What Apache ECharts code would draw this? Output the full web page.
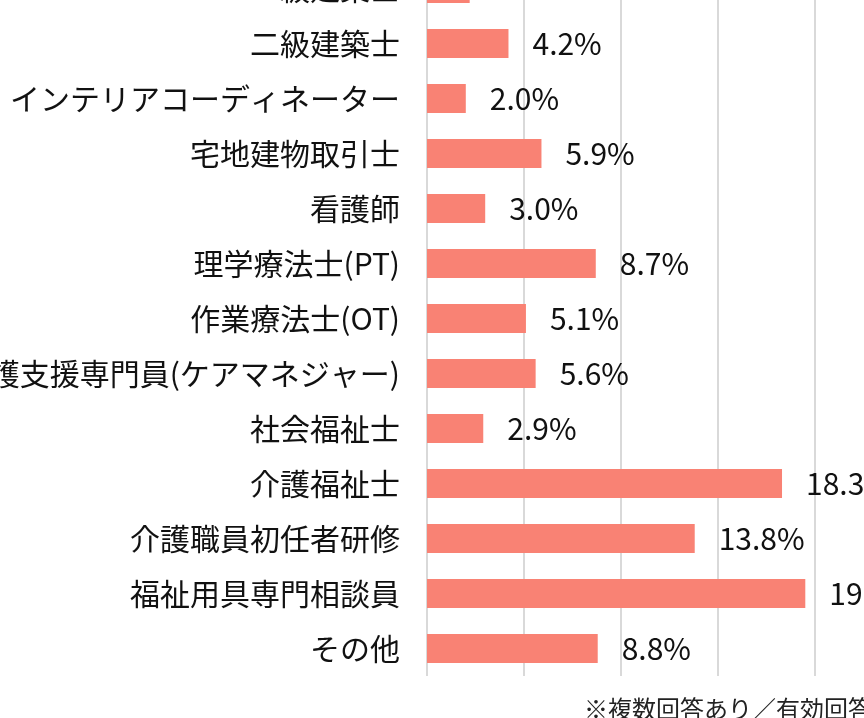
<!DOCTYPE html>
<html>
<head>
<meta charset="utf-8">
<script src="https://cdn.jsdelivr.net/npm/echarts@6/dist/echarts.min.js"></script>
<style>html,body{margin:0;padding:0;background:#fff}#c{width:864px;height:718px}</style>
</head>
<body>
<div id="c"></div>
<script>
const categories = ['一級建築士','二級建築士','インテリアコーディネーター','宅地建物取引士','看護師','理学療法士(PT)','作業療法士(OT)','介護支援専門員(ケアマネジャー)','社会福祉士','介護福祉士','介護職員初任者研修','福祉用具専門相談員','その他'];
const values = [2.2,4.2,2.0,5.9,3.0,8.7,5.1,5.6,2.9,18.3,13.8,19.5,8.8];
const xTicks = [0,5,10,15,20,25];
const note = '※複数回答あり／有効回答数';

const font = "'Noto Sans CJK JP','Noto Sans',sans-serif";
const chart = echarts.init(document.getElementById('c'));
chart.setOption({
  animation:false,
  grid:{left:427, top:-39, height:715, width:485, containLabel:false, outerBoundsMode:'none'},
  xAxis:{type:'value', min:xTicks[0], max:xTicks[xTicks.length-1], interval:5,
    axisLabel:{show:false}, axisLine:{show:false}, axisTick:{show:false},
    splitLine:{show:true, lineStyle:{color:'#cccccc', width:1.5}}},
  yAxis:{type:'category', data:categories, inverse:true,
    axisLine:{show:false}, axisTick:{show:false},
    axisLabel:{margin:27, fontSize:30, color:'#111', fontFamily:font}},
  series:[{type:'bar', data:values, barCategoryGap:'47%',
    itemStyle:{color:'#F98274'},
    label:{show:true, position:'right', distance:24, fontSize:30, color:'#111', fontFamily:font,
      formatter:p=>p.value.toFixed(1)+'%'}}],
  graphic:[{type:'text', left:584, top:697, style:{text:note, fontSize:24, fill:'#222', fontFamily:font}}]
});
</script>
</body>
</html>
